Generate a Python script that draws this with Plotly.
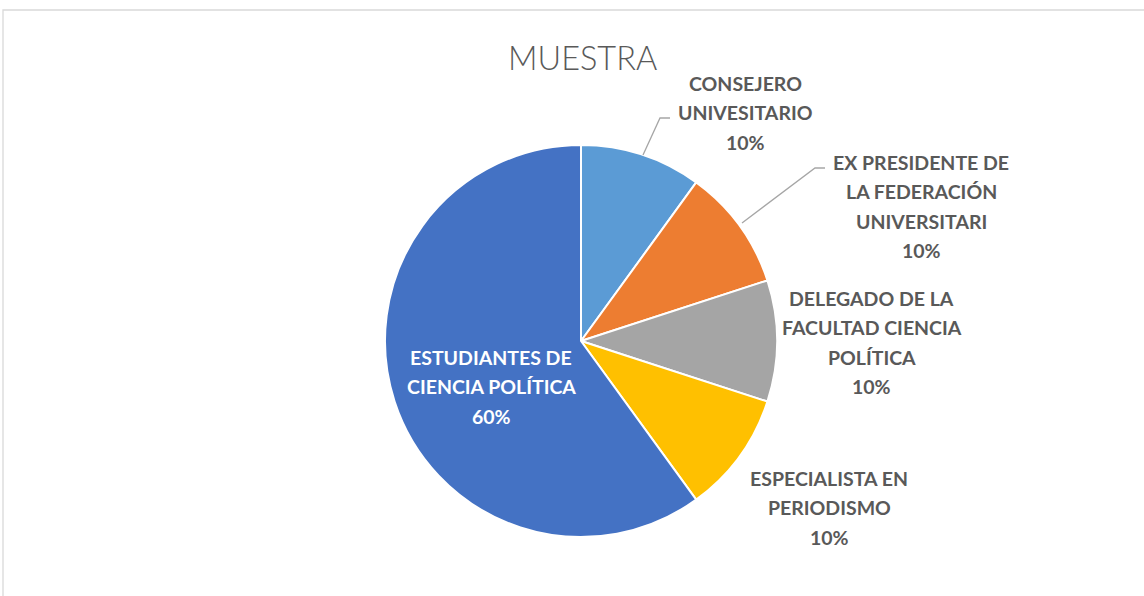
import plotly.graph_objects as go

# Data
labels = ["CONSEJERO UNIVESITARIO", "EX PRESIDENTE DE LA FEDERACIÓN UNIVERSITARI",
          "DELEGADO DE LA FACULTAD CIENCIA POLÍTICA", "ESPECIALISTA EN PERIODISMO",
          "ESTUDIANTES DE CIENCIA POLÍTICA"]
label_lines = [["CONSEJERO", "UNIVESITARIO"],
               ["EX PRESIDENTE DE", "LA FEDERACIÓN", "UNIVERSITARI"],
               ["DELEGADO DE LA", "FACULTAD CIENCIA", "POLÍTICA"],
               ["ESPECIALISTA EN", "PERIODISMO"],
               ["ESTUDIANTES DE", "CIENCIA POLÍTICA"]]
values = [10, 10, 10, 10, 60]
colors = ["#5B9BD5", "#ED7D31", "#A5A5A5", "#FFC000", "#4472C4"]

W, H = 1144, 596
cx, cy, r = 581, 341, 196

fig = go.Figure()
fig.add_trace(go.Pie(
    labels=labels, values=values, sort=False, direction="clockwise", rotation=0,
    marker=dict(colors=colors, line=dict(color="white", width=2)),
    textinfo="none", hoverinfo="label+percent", showlegend=False,
    domain=dict(x=[(cx - r) / W, (cx + r) / W], y=[(H - cy - r) / H, (H - cy + r) / H]),
))

# label placement (pixel centers of first line) and colors
label_pos = [(745, 83), (921, 162), (872, 298), (829, 478), (491, 357)]
label_col = ["#595959", "#595959", "#595959", "#595959", "#FFFFFF"]
line_gap = 29.5
total = sum(values)
annotations = []
for lines, (x, y), col, v in zip(label_lines, label_pos, label_col, values):
    allt = lines + [f"{round(100 * v / total)}%"]
    for i, t in enumerate(allt):
        annotations.append(dict(
            x=x / W, y=1 - (y + i * line_gap) / H, xref="paper", yref="paper",
            text=f"<b>{t}</b>", showarrow=False, xanchor="center", yanchor="middle",
            font=dict(family="Lato, Open Sans, sans-serif", size=19.5, color=col)))

annotations.append(dict(x=582 / W, y=1 - 57 / H, xref="paper", yref="paper",
                        text="MUESTRA", showarrow=False, xanchor="center", yanchor="middle",
                        font=dict(family="Lato, Open Sans, sans-serif", size=32.5,
                                  color="#595959", weight=300)))

shapes = [
    dict(type="rect", xref="paper", yref="paper", x0=3 / W, x1=1.05, y0=-0.05, y1=1 - 10 / H,
         line=dict(color="#D9D9D9", width=1.3)),
    dict(type="path", xref="paper", yref="paper",
         path=f"M {643/W} {1-155/H} L {660/W} {1-118/H} L {670/W} {1-118/H}",
         line=dict(color="#A6A6A6", width=1.3)),
    dict(type="path", xref="paper", yref="paper",
         path=f"M {742/W} {1-223/H} L {815/W} {1-168/H} L {825/W} {1-168/H}",
         line=dict(color="#A6A6A6", width=1.3)),
]

fig.update_layout(width=W, height=H, margin=dict(l=0, r=0, t=0, b=0),
                  paper_bgcolor="white", plot_bgcolor="white",
                  annotations=annotations, shapes=shapes)
fig.write_html("out.html", config={"displayModeBar": False},
               post_script="document.body.style.margin='0';document.body.style.overflow='hidden';")
